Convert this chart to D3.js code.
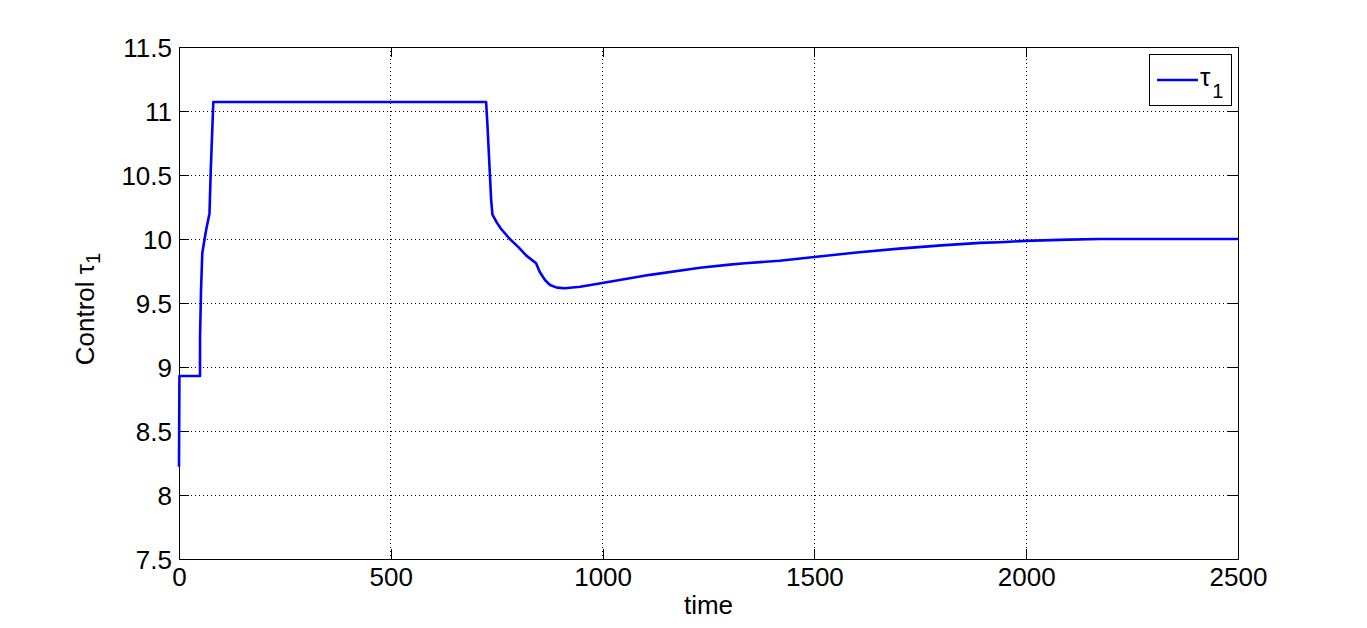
<!DOCTYPE html>
<html>
<head>
<meta charset="utf-8">
<script src="https://cdn.jsdelivr.net/npm/d3@7"></script>
<style>
  body { margin: 0; background: #fff; }
  svg { display: block; }
  text { font-family: "Liberation Sans", Arial, sans-serif; fill: #000; }
</style>
</head>
<body>
<svg id="chart" width="1367" height="628"></svg>
<script>
// Data (time, control tau_1)
const timeValues = [0, 1, 49.6, 49.7, 52, 55, 64, 72, 75, 81, 725, 728, 731, 734, 737, 740,
  750, 760, 781, 800, 820, 843, 852, 864, 876, 892, 911, 947, 996, 1112, 1230, 1300, 1336,
  1418, 1500, 1600, 1700, 1800, 1891, 1938, 1998, 2100, 2174, 2300, 2500];
const tauValues = [8.22, 8.93, 8.93, 9.24, 9.6, 9.89, 10.07, 10.2, 10.54, 11.07, 11.07, 10.9, 10.7, 10.5, 10.3, 10.19,
  10.13, 10.08, 10.0, 9.94, 9.87, 9.81, 9.74, 9.68, 9.64, 9.62, 9.615, 9.627, 9.654, 9.72, 9.776, 9.80, 9.81,
  9.83, 9.86, 9.895, 9.925, 9.95, 9.97, 9.975, 9.985, 9.995, 10.0, 10.0, 10.0];
const xTicks = [0, 500, 1000, 1500, 2000, 2500];
const yTicks = [7.5, 8, 8.5, 9, 9.5, 10, 10.5, 11, 11.5];

const svg = d3.select("#chart");
const L = 179, R = 1238, T = 47, B = 559;
const x = d3.scaleLinear().domain([0, 2500]).range([L, R]);
const y = d3.scaleLinear().domain([7.5, 11.5]).range([B, T]);
const fs = 26;

// grid
const grid = svg.append("g");
grid.selectAll("line.gx").data(xTicks.slice(1, -1)).enter().append("line")
  .attr("x1", d => x(d)).attr("x2", d => x(d)).attr("y1", T).attr("y2", B)
  .attr("stroke", "#000").attr("stroke-width", 1).attr("stroke-dasharray", "1,3")
  .attr("shape-rendering", "crispEdges");
grid.selectAll("line.gy").data(yTicks.slice(1, -1)).enter().append("line")
  .attr("x1", L).attr("x2", R).attr("y1", d => y(d)).attr("y2", d => y(d))
  .attr("stroke", "#000").attr("stroke-width", 1).attr("stroke-dasharray", "1,3")
  .attr("shape-rendering", "crispEdges");

// axes: ticks inward on all sides
const tk = 10;
const axB = svg.append("g").attr("transform", `translate(0,${B})`)
  .call(d3.axisBottom(x).tickValues(xTicks).tickSize(-tk).tickPadding(8).tickFormat(d3.format("d")));
const axT = svg.append("g").attr("transform", `translate(0,${T})`)
  .call(d3.axisTop(x).tickValues(xTicks).tickSize(-tk).tickFormat(""));
const axL = svg.append("g").attr("transform", `translate(${L},0)`)
  .call(d3.axisLeft(y).tickValues(yTicks).tickSize(-tk).tickPadding(7).tickFormat(d => d3.format("")(d)));
const axR = svg.append("g").attr("transform", `translate(${R},0)`)
  .call(d3.axisRight(y).tickValues(yTicks).tickSize(-tk).tickFormat(""));
[axB, axT, axL, axR].forEach(a => {
  a.select(".domain").attr("stroke", "#000").attr("stroke-width", 1).attr("shape-rendering", "crispEdges");
  a.selectAll(".tick line").attr("stroke", "#000").attr("shape-rendering", "crispEdges");
  a.selectAll("text").attr("font-size", fs).attr("font-family", "Liberation Sans, Arial, sans-serif").attr("fill", "#000");
});
axB.selectAll(".tick text").attr("dy", "0.72em");
axL.selectAll(".tick text").attr("dy", "0.36em");

// line
const data = timeValues.map((t, i) => ({ t, v: tauValues[i] }));
svg.append("path").datum(data)
  .attr("fill", "none").attr("stroke", "#0000ff").attr("stroke-width", 2.6)
  .attr("stroke-linejoin", "round")
  .attr("d", d3.line().x(d => x(d.t)).y(d => y(d.v)));

// axis labels
svg.append("text").attr("x", (L + R) / 2).attr("y", 614).attr("text-anchor", "middle")
  .attr("font-size", fs).text("time");
const yl = svg.append("text").attr("transform", `translate(94,${(T + B) / 2 + 6}) rotate(-90)`)
  .attr("text-anchor", "middle").attr("font-size", fs);
yl.append("tspan").text("Control \u03C4");
yl.append("tspan").attr("font-size", 20).attr("dy", 6).text("1");

// legend
const lg = svg.append("g");
lg.append("rect").attr("x", 1149.5).attr("y", 54.5).attr("width", 82).attr("height", 51)
  .attr("fill", "#fff").attr("stroke", "#000").attr("stroke-width", 1);
lg.append("line").attr("x1", 1157).attr("x2", 1198).attr("y1", 80).attr("y2", 80)
  .attr("stroke", "#0000ff").attr("stroke-width", 2.6);
const lt = lg.append("text").attr("x", 1200).attr("y", 86).attr("font-size", fs);
lt.append("tspan").text("\u03C4");
lt.append("tspan").attr("font-size", 20).attr("dy", 12).attr("dx", 2).text("1");
</script>
</body>
</html>
